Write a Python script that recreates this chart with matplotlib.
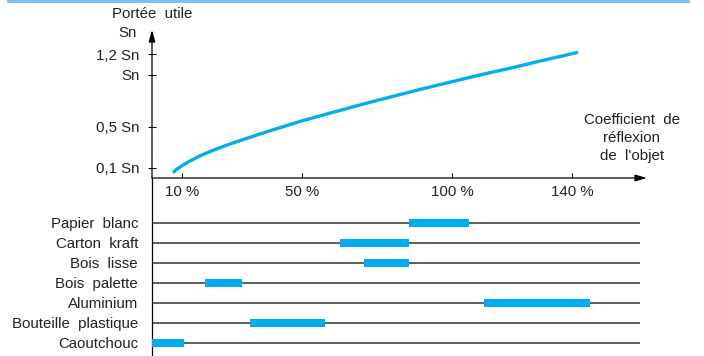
import matplotlib.pyplot as plt
from matplotlib.lines import Line2D

# ---------------- données ----------------
# courbe : portée utile (en Sn) selon le coefficient de réflexion (%)
reflexion = [7, 8, 10, 13, 16, 20, 25, 30, 40, 50, 60, 70, 80, 90, 100, 110, 120, 130, 142]
portee = [0.05, 0.08, 0.12, 0.17, 0.215, 0.265, 0.32, 0.37, 0.465, 0.555, 0.635, 0.715,
          0.79, 0.865, 0.935, 1.005, 1.07, 1.14, 1.22]

y_ticks = [0.1, 0.5, 1.0, 1.2]
y_labels = ["0,1 Sn", "0,5 Sn", "Sn", "1,2 Sn"]
x_ticks = [10, 50, 100, 140]
x_labels = ["10 %", "50 %", "100 %", "140 %"]

# matériaux : plage du coefficient de réflexion (%)
materiaux = ["Caoutchouc", "Bouteille  plastique", "Aluminium", "Bois  palette",
             "Bois  lisse", "Carton  kraft", "Papier  blanc"]
debut = [0, 32.5, 110.5, 17.5, 70.5, 62.5, 85.5]
fin = [10.5, 57.5, 146, 30, 85.5, 85.5, 105.5]

BLEU = "#00AEEF"
TXT = "#222222"
FS = 10.8

plt.rcParams["font.family"] = ["Liberation Sans", "DejaVu Sans"]

W, H = 704, 356
fig = plt.figure(figsize=(W / 100, H / 100), dpi=100)

# filet bleu en haut
fig.add_artist(Line2D([8 / W, 688 / W], [1 - 1.2 / H, 1 - 1.2 / H],
                      color="#7FC4E6", lw=2.2, transform=fig.transFigure))

X0, X1 = 152, 647           # pixels : 0 % et pointe de la flèche
pct = 3.0                   # pixels par %
xmax = (X1 - X0) / pct

# ---------------- graphique du bas ----------------
R0 = 342.7                  # pixel de la ligne "Caoutchouc"
pas = 20.0
Y0, Y1 = 178, 30
ax2 = fig.add_axes([X0 / W, 0, (X1 - X0) / W, (H - Y0) / H])
ax2.patch.set_visible(False)
ax2.set_xlim(0, xmax)
ax2.set_ylim((R0 - H) / pas, (R0 - Y0) / pas)
for s in ["top", "right", "bottom"]:
    ax2.spines[s].set_visible(False)
ax2.spines["left"].set_linewidth(0.9)

rangs = list(range(len(materiaux)))
ax2.hlines(rangs, 0, (640 - X0) / pct, color="#333333", lw=1.1)
ax2.barh(rangs, [f - d for d, f in zip(debut, fin)], left=debut,
         height=0.4, color=BLEU, zorder=3)
ax2.set_yticks(rangs)
ax2.set_yticklabels(materiaux)
ax2.tick_params(axis="y", length=0, pad=10, labelsize=FS, labelcolor=TXT)
ax2.set_xticks([])

# ---------------- graphique du haut ----------------
ax = fig.add_axes([X0 / W, 1 - Y0 / H, (X1 - X0) / W, (Y0 - Y1) / H])
ax.patch.set_visible(False)
ymax = (Y0 - Y1) / 103
ax.set_xlim(0, xmax)
ax.set_ylim(0, ymax)
for s in ax.spines.values():
    s.set_visible(False)

ax.plot(reflexion, portee, color=BLEU, lw=2.4, solid_capstyle="butt")

ax.annotate("", xy=(0, 1), xycoords="axes fraction", xytext=(0, 0),
            arrowprops=dict(arrowstyle="-|>,head_length=0.7,head_width=0.2",
                            color="black", lw=0.9, shrinkA=0, shrinkB=0))
ax.annotate("", xy=(1, 0), xycoords="axes fraction", xytext=(0, 0),
            arrowprops=dict(arrowstyle="-|>,head_length=0.7,head_width=0.2",
                            color="black", lw=0.9, shrinkA=0, shrinkB=0))

ax.set_yticks(y_ticks)
ax.set_yticklabels(y_labels)
ax.tick_params(axis="y", direction="inout", length=6, width=0.8, pad=6,
               labelsize=FS, labelcolor=TXT)
ax.set_xticks(x_ticks)
ax.set_xticklabels(x_labels)
ax.tick_params(axis="x", direction="in", length=3.5, width=0.8, pad=5,
               labelsize=FS, labelcolor=TXT)

ax.text(-0.03 * xmax, ymax - 0.03, "Sn", ha="right", va="center",
        fontsize=FS, color=TXT, clip_on=False)
ax.text(0, ymax + 0.155, "Portée  utile", ha="center", va="center",
        fontsize=FS, color=TXT, clip_on=False)
ax.text(160, 0.39, "Coefficient  de\nréflexion\nde  l'objet", ha="center",
        va="center", fontsize=FS, color=TXT, linespacing=1.35, clip_on=False)

fig.savefig("out.png", dpi=100)
